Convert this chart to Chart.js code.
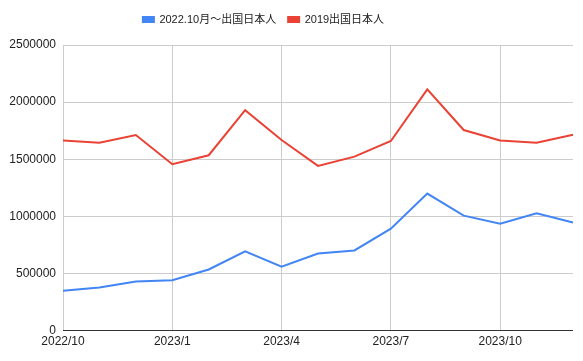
<!DOCTYPE html>
<html>
<head>
<meta charset="utf-8">
<script src="https://cdn.jsdelivr.net/npm/chart.js@4"></script>
<style>
  body { margin: 0; background: #fff; }
</style>
</head>
<body>
<canvas id="grafico" width="583" height="361"></canvas>
<script>
const meses = ["2022/10", "2022/11", "2022/12", "2023/1", "2023/2", "2023/3", "2023/4",
    "2023/5", "2023/6", "2023/7", "2023/8", "2023/9", "2023/10", "2023/11", "2023/12"];

const saida2022 = [348000, 377000, 430000, 441000, 535000, 693000, 559000,
    675000, 702000, 892000, 1199000, 1006000, 936000, 1026000, 947000];

const saida2019 = [1665000, 1645000, 1712000, 1456000, 1535000, 1930000, 1668000,
    1442000, 1523000, 1660000, 2111000, 1756000, 1665000, 1645000, 1715000];

const ticksY = [0, 500000, 1000000, 1500000, 2000000, 2500000];

const fonte = "Arial, 'Liberation Sans', 'Noto Sans CJK JP', sans-serif";

// espaço extra abaixo da legenda e legenda um pouco à esquerda
const ajusteLegenda = {
    id: "ajusteLegenda",
    beforeInit(chart) {
        const fitOriginal = chart.legend.fit;
        chart.legend.fit = function () {
            fitOriginal.call(this);
            this.height += 10;
        };
    },
    afterLayout(chart) {
        chart.legend.left -= 23;
        chart.legend.right -= 23;
    }
};

new Chart(document.getElementById("grafico"), {
    type: "line",
    data: {
        labels: meses,
        datasets: [{
            label: "2022.10月～出国日本人",
            data: saida2022,
            borderColor: "#4285f4",
            backgroundColor: "#4285f4",
            borderWidth: 2,
            pointRadius: 0,
            tension: 0
        }, {
            label: "2019出国日本人",
            data: saida2019,
            borderColor: "#ea4335",
            backgroundColor: "#ea4335",
            borderWidth: 2,
            pointRadius: 0,
            tension: 0
        }]
    },
    plugins: [ajusteLegenda],
    options: {
        responsive: false,
        animation: false,
        layout: { padding: { left: 0, right: 10, top: 2, bottom: 8 } },
        plugins: {
            legend: {
                position: "top",
                labels: {
                    boxWidth: 11,
                    boxHeight: 5,
                    padding: 12,
                    color: "#222",
                    font: { family: fonte, size: 11 }
                }
            },
            tooltip: { enabled: false }
        },
        scales: {
            x: {
                offset: false,
                border: { display: false },
                grid: {
                    drawTicks: false,
                    color: ctx => ctx.index % 3 === 0 ? "#cccccc" : "rgba(0,0,0,0)"
                },
                ticks: {
                    autoSkip: false,
                    maxRotation: 0,
                    padding: 4,
                    color: "#222",
                    font: { family: fonte, size: 12 },
                    callback: (v, i) => i % 3 === 0 ? meses[i] : ""
                }
            },
            y: {
                min: 0,
                max: 2500000,
                border: { display: false },
                afterFit: s => { s.width = 63; },
                afterBuildTicks: s => { s.ticks = ticksY.map(v => ({ value: v })); },
                grid: {
                    drawTicks: false,
                    color: ctx => ctx.tick && ctx.tick.value === 0 ? "#333333" : "#cccccc"
                },
                ticks: {
                    padding: 7,
                    color: "#222",
                    font: { family: fonte, size: 12 },
                    callback: v => String(v)
                }
            }
        }
    }
});
</script>
</body>
</html>
